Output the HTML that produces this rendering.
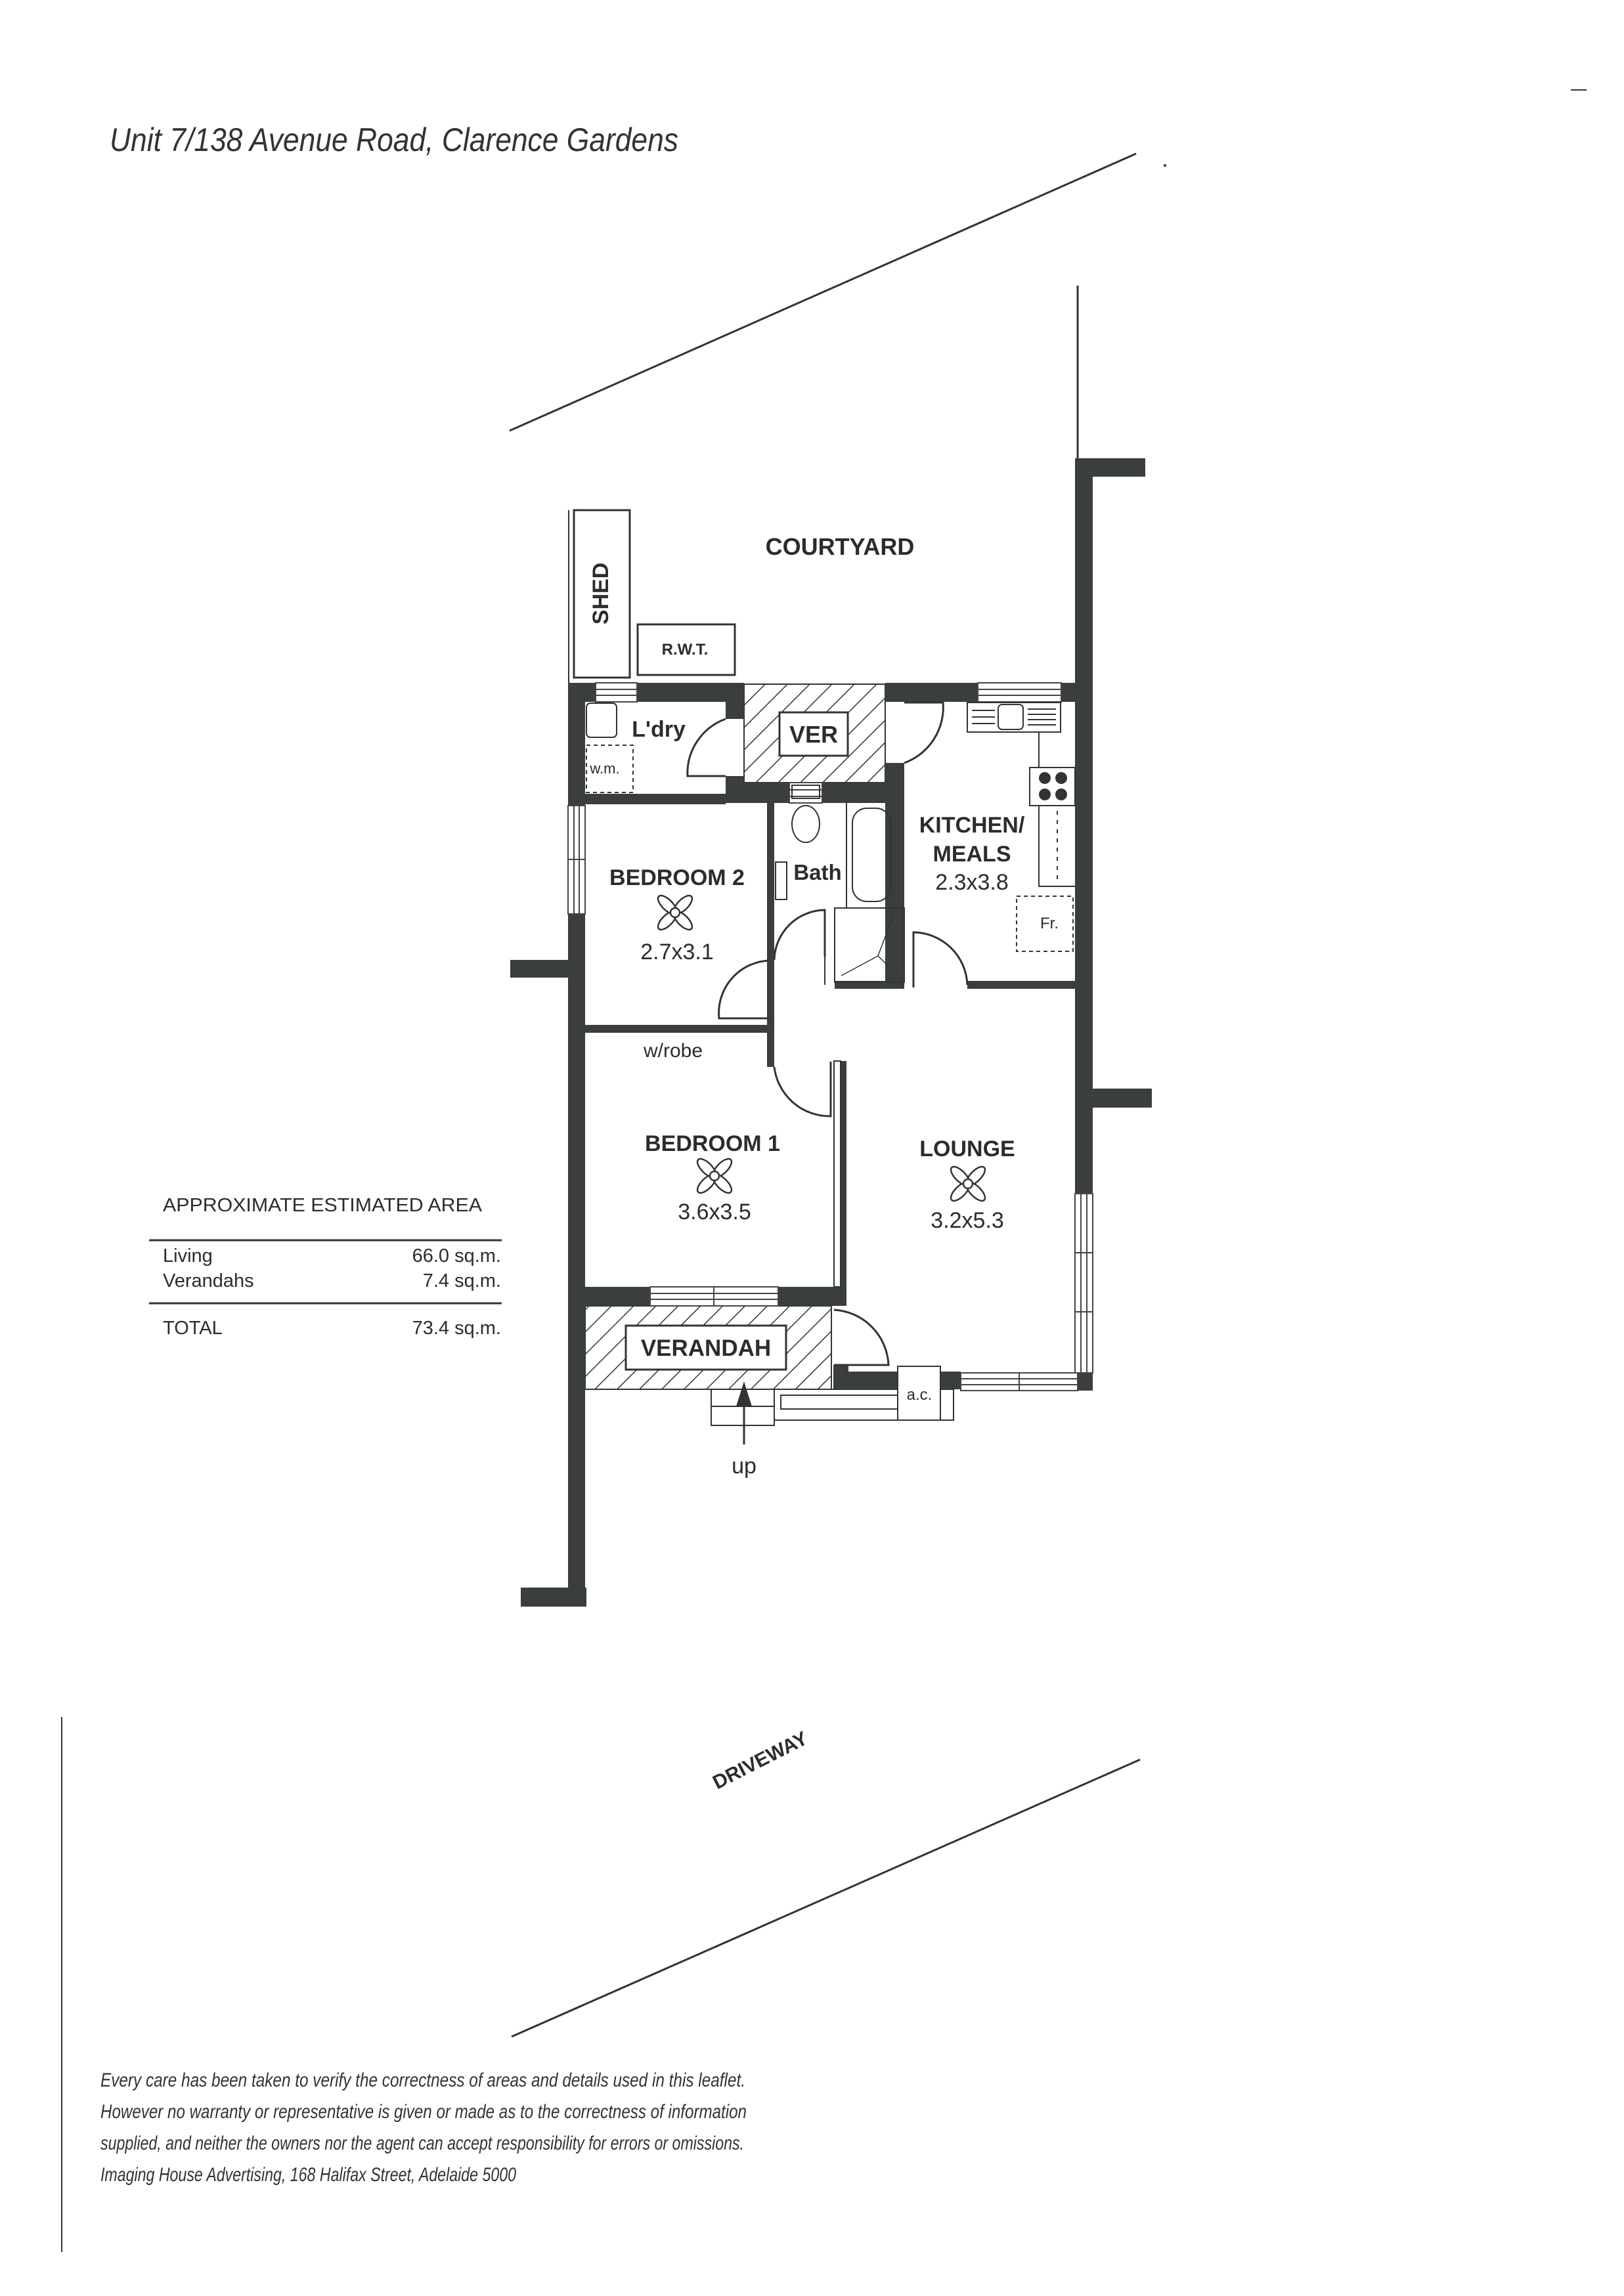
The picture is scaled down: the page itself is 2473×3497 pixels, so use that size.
<!DOCTYPE html>
<html><head><meta charset="utf-8"><style>
html,body{margin:0;padding:0;background:#fff}
svg{display:block}
.b{font-family:"Liberation Sans",sans-serif;font-weight:bold;fill:#2a2d2d}
.n{font-family:"Liberation Sans",sans-serif;fill:#2a2d2d}
</style></head><body>
<svg width="2473" height="3497" viewBox="0 0 2473 3497" xmlns="http://www.w3.org/2000/svg">
<defs>
<pattern id="h" patternUnits="userSpaceOnUse" width="24" height="24" patternTransform="rotate(45)">
<line x1="0" y1="0" x2="0" y2="24" stroke="#333" stroke-width="3"/>
</pattern>
<g id="fan" fill="#fff" stroke="#333" stroke-width="2.5">
<ellipse cx="0" cy="-17" rx="8" ry="18" transform="rotate(45)"/>
<ellipse cx="0" cy="17" rx="8" ry="18" transform="rotate(45)"/>
<ellipse cx="0" cy="-17" rx="8" ry="18" transform="rotate(-45)"/>
<ellipse cx="0" cy="17" rx="8" ry="18" transform="rotate(-45)"/>
<circle r="7"/>
</g>
</defs>
<rect width="2473" height="3497" fill="#fff"/>

<text x="167" y="230" font-family="Liberation Sans" font-style="italic" font-size="50" fill="#333" textLength="866" lengthAdjust="spacingAndGlyphs">Unit 7/138 Avenue Road, Clarence Gardens</text>
<line x1="2392" y1="137" x2="2416" y2="137" stroke="#333" stroke-width="2"/>

<line x1="776" y1="656" x2="1730" y2="234" stroke="#333" stroke-width="3"/>
<circle cx="1774" cy="252" r="2" fill="#333"/>
<line x1="1641" y1="435" x2="1641" y2="700" stroke="#333" stroke-width="3"/>
<line x1="779" y1="3102" x2="1736" y2="2680" stroke="#333" stroke-width="3"/>
<line x1="94" y1="2615" x2="94" y2="3430" stroke="#333" stroke-width="2"/>

<rect x="1133" y="1042" width="215" height="150" fill="url(#h)" stroke="#333" stroke-width="2"/>
<rect x="891" y="1989" width="375" height="127" fill="url(#h)" stroke="#333" stroke-width="2"/>

<g fill="#3a3f3e">
<rect x="865" y="1040" width="26" height="1407"/>
<rect x="793" y="2418" width="100" height="29"/>
<rect x="777" y="1462" width="88" height="27"/>
<rect x="865" y="1040" width="268" height="29"/>
<rect x="1348" y="1040" width="316" height="29"/>
<rect x="1637" y="698" width="27" height="1420"/>
<rect x="1637" y="698" width="107" height="28"/>
<rect x="1664" y="1658" width="90" height="29"/>
<rect x="1105" y="1069" width="28" height="26"/>
<rect x="1105" y="1182" width="28" height="41"/>
<rect x="891" y="1209" width="214" height="16"/>
<rect x="1105" y="1192" width="272" height="31"/>
<rect x="1348" y="1162" width="29" height="342"/>
<rect x="1168" y="1223" width="11" height="340"/>
<rect x="1271" y="1494" width="106" height="12"/>
<rect x="1473" y="1494" width="164" height="12"/>
<rect x="891" y="1561" width="288" height="12"/>
<rect x="1168" y="1561" width="11" height="64"/>
<rect x="1280" y="1616" width="9" height="373"/>
<rect x="891" y="1960" width="398" height="29"/>
<rect x="1269" y="2079" width="23" height="37"/>
<rect x="1292" y="2089" width="75" height="27"/>
<rect x="1432" y="2089" width="31" height="27"/>
</g>
<rect x="1270" y="1616" width="10" height="344" fill="#fff" stroke="#333" stroke-width="2"/>

<g fill="#fff" stroke="#444" stroke-width="2">
<rect x="907" y="1040" width="63" height="29"/><line x1="907" y1="1050" x2="970" y2="1050"/><line x1="907" y1="1059" x2="970" y2="1059"/>
<rect x="1489" y="1040" width="127" height="29"/><line x1="1489" y1="1050" x2="1616" y2="1050"/><line x1="1489" y1="1059" x2="1616" y2="1059"/>
<rect x="1202" y="1192" width="50" height="31"/><line x1="1202" y1="1203" x2="1252" y2="1203"/><line x1="1202" y1="1213" x2="1252" y2="1213"/>
<rect x="865" y="1227" width="26" height="165"/><line x1="874" y1="1227" x2="874" y2="1392"/><line x1="882" y1="1227" x2="882" y2="1392"/><line x1="865" y1="1309" x2="891" y2="1309"/>
<rect x="990" y="1960" width="195" height="29"/><line x1="990" y1="1970" x2="1185" y2="1970"/><line x1="990" y1="1979" x2="1185" y2="1979"/><line x1="1087" y1="1960" x2="1087" y2="1989"/>
<rect x="1637" y="1818" width="27" height="273"/><line x1="1646" y1="1818" x2="1646" y2="2091"/><line x1="1655" y1="1818" x2="1655" y2="2091"/><line x1="1637" y1="1908" x2="1664" y2="1908"/><line x1="1637" y1="1998" x2="1664" y2="1998"/>
<rect x="1463" y="2091" width="178" height="27"/><line x1="1463" y1="2100" x2="1641" y2="2100"/><line x1="1463" y1="2109" x2="1641" y2="2109"/><line x1="1552" y1="2091" x2="1552" y2="2118"/>
</g>

<g fill="none" stroke="#333" stroke-width="3">
<rect x="874" y="777" width="85" height="255" fill="#fff"/>
<line x1="866" y1="777" x2="866" y2="1040" stroke-width="2"/>
<rect x="971" y="951" width="148" height="77"/>
<rect x="1187" y="1085" width="104" height="66" fill="#fff"/>
<rect x="953" y="2019" width="244" height="67" fill="#fff"/>
<path d="M1105,1095 A88,88 0 0 0 1047,1182 L1105,1182"/>
<path d="M1377,1070 L1436,1070 A90,90 0 0 1 1377,1162"/>
<path d="M1391,1504 L1391,1420 A83,83 0 0 1 1473,1500"/>
<path d="M1172,1551 L1095,1551 A80,80 0 0 1 1172,1463"/>
<path d="M1179,1462 A78,78 0 0 1 1256,1386 L1256,1457"/>
<path d="M1179,1625 A85,85 0 0 0 1265,1700 L1265,1617"/>
<path d="M1270,1995 A88,88 0 0 1 1353,2079 L1270,2079"/>
<line x1="1289" y1="1223" x2="1289" y2="1383" stroke-width="2"/>
<rect x="1298" y="1231" width="58" height="142" rx="22" stroke-width="2"/>
<rect x="1271" y="1383" width="106" height="113" stroke-width="2"/>
<path d="M1281,1486 L1337,1456 L1360,1395 M1337,1456 L1372,1490" stroke-width="1.5"/>
<line x1="1256" y1="1386" x2="1256" y2="1500" stroke-width="2"/>
<ellipse cx="1227" cy="1255" rx="21" ry="28" stroke-width="2"/>
<rect x="1206" y="1196" width="42" height="20" stroke-width="2"/>
<rect x="1181" y="1313" width="17" height="57" stroke-width="2"/>
<rect x="893" y="1071" width="46" height="52" rx="6" stroke-width="2"/>
<rect x="893" y="1135" width="71" height="72" stroke-dasharray="6,5" stroke-width="2"/>
<rect x="1473" y="1070" width="142" height="45" stroke-width="2"/>
<rect x="1520" y="1073" width="38" height="38" rx="6" stroke-width="2"/>
<path d="M1480,1082 H1515 M1480,1092 H1515 M1480,1102 H1515 M1565,1080 H1608 M1565,1088 H1608 M1565,1096 H1608 M1565,1104 H1608" stroke-width="2"/>
<path d="M1582,1115 V1350 H1637" stroke-width="2"/>
<rect x="1568" y="1169" width="69" height="58" fill="#fff" stroke-width="2"/>
<rect x="1548" y="1365" width="86" height="84" stroke-dasharray="6,5" stroke-width="2"/>
<line x1="1610" y1="1235" x2="1610" y2="1345" stroke-dasharray="6,8" stroke-width="2"/>
<rect x="1367" y="2081" width="65" height="82" fill="#fff" stroke-width="2"/>
<rect x="1083" y="2116" width="96" height="55" stroke-width="2"/>
<line x1="1083" y1="2142" x2="1179" y2="2142" stroke-width="2"/>
<rect x="1179" y="2116" width="188" height="47" stroke-width="2"/>
<rect x="1189" y="2125" width="178" height="21" stroke-width="2"/>
<rect x="1432" y="2116" width="20" height="47" stroke-width="2"/>
<line x1="1133" y1="2200" x2="1133" y2="2135" stroke-width="3"/>
</g>
<g fill="#333">
<circle cx="1591" cy="1185" r="9"/><circle cx="1616" cy="1185" r="9"/>
<circle cx="1591" cy="1210" r="9"/><circle cx="1616" cy="1210" r="9"/>
<path d="M1133,2104 L1121,2142 L1145,2142 Z"/>
</g>

<use href="#fan" x="1028" y="1390"/>
<use href="#fan" x="1088" y="1791"/>
<use href="#fan" x="1474" y="1803"/>

<g class="b" text-anchor="middle">
<text x="1279" y="845" font-size="36">COURTYARD</text>
<text transform="translate(926,904) rotate(-90)" font-size="34">SHED</text>
<text x="1043" y="997" font-size="24">R.W.T.</text>
<text x="1239" y="1131" font-size="36">VER</text>
<text x="1003" y="1122" font-size="34">L'dry</text>
<text x="1245" y="1340" font-size="33">Bath</text>
<text x="1031" y="1348" font-size="34">BEDROOM 2</text>
<text x="1480" y="1268" font-size="34">KITCHEN/</text>
<text x="1480" y="1312" font-size="34">MEALS</text>
<text x="1085" y="1753" font-size="34">BEDROOM 1</text>
<text x="1473" y="1761" font-size="34">LOUNGE</text>
<text x="1075" y="2065" font-size="35">VERANDAH</text>
<text transform="translate(1162,2690) rotate(-27)" font-size="30">DRIVEWAY</text>
</g>
<g class="n" text-anchor="middle">
<text x="1480" y="1355" font-size="34">2.3x3.8</text>
<text x="1031" y="1461" font-size="34">2.7x3.1</text>
<text x="1088" y="1857" font-size="34">3.6x3.5</text>
<text x="1473" y="1870" font-size="34">3.2x5.3</text>
<text x="1025" y="1610" font-size="30">w/robe</text>
<text x="921" y="1178" font-size="22">w.m.</text>
<text x="1598" y="1414" font-size="24">Fr.</text>
<text x="1400" y="2132" font-size="24">a.c.</text>
<text x="1133" y="2244" font-size="34">up</text>
</g>

<g class="n" font-size="29">
<text x="248" y="1845" textLength="486" lengthAdjust="spacingAndGlyphs">APPROXIMATE ESTIMATED AREA</text>
<text x="248" y="1922">Living</text>
<text x="248" y="1960">Verandahs</text>
<text x="248" y="2032">TOTAL</text>
<text x="763" y="1922" text-anchor="end">66.0 sq.m.</text>
<text x="763" y="1960" text-anchor="end">7.4 sq.m.</text>
<text x="763" y="2032" text-anchor="end">73.4 sq.m.</text>
</g>
<line x1="227" y1="1889" x2="764" y2="1889" stroke="#333" stroke-width="3"/>
<line x1="227" y1="1985" x2="764" y2="1985" stroke="#333" stroke-width="3"/>

<g font-family="Liberation Sans" font-style="italic" font-size="30" fill="#333">
<text x="153" y="3178" textLength="982" lengthAdjust="spacingAndGlyphs">Every care has been taken to verify the correctness of areas and details used in this leaflet.</text>
<text x="153" y="3226" textLength="984" lengthAdjust="spacingAndGlyphs">However no warranty or representative is given or made as to the correctness of information</text>
<text x="153" y="3274" textLength="980" lengthAdjust="spacingAndGlyphs">supplied, and neither the owners nor the agent can accept responsibility for errors or omissions.</text>
<text x="153" y="3322" textLength="633" lengthAdjust="spacingAndGlyphs">Imaging House Advertising, 168 Halifax Street, Adelaide 5000</text>
</g>
</svg>
</body></html>
